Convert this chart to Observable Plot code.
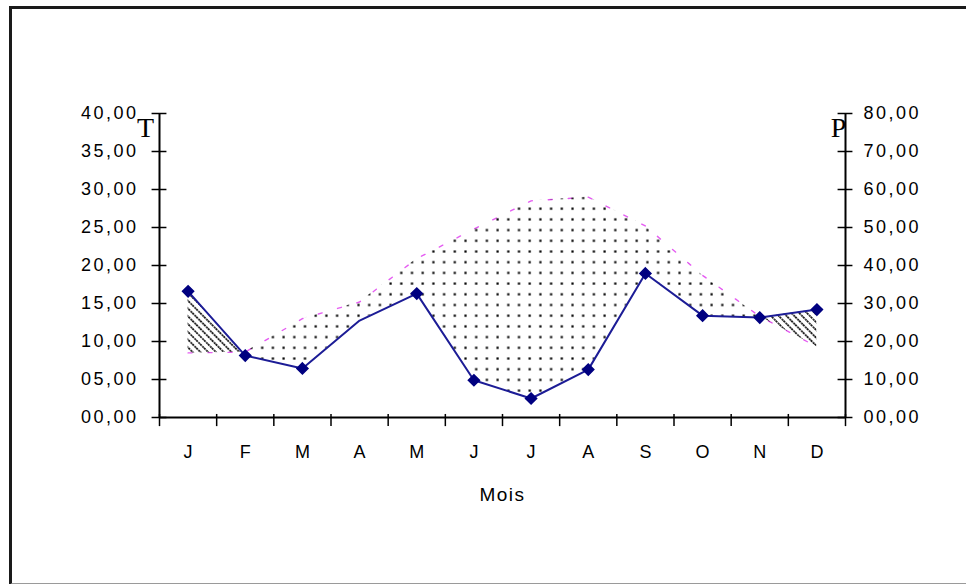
<!DOCTYPE html>
<html>
<head>
<meta charset="utf-8">
<script src="https://cdn.jsdelivr.net/npm/d3@7"></script>
<script src="https://cdn.jsdelivr.net/npm/@observablehq/plot@0.6"></script>
<style>
  html, body { margin: 0; padding: 0; background: #fff; }
  #wrap { position: relative; width: 966px; height: 584px; overflow: hidden; }
  #frame { position: absolute; left: 9px; top: 6px; width: 1000px; height: 574px;
           border-left: 3px solid #1a1a1a; border-top: 3px solid #1a1a1a; border-bottom: 2px solid #9a9a9a; }
  svg { position: absolute; left: 0; top: 0; }
</style>
</head>
<body>
<div id="wrap"><div id="frame"></div></div>
<script>
// Months (Mois)
const months = ["J","F","M","A","M","J","J","A","S","O","N","D"];
// Temperature T (°C), left axis
const temperature = [8.5, 8.6, 13.0, 15.2, 20.9, 24.8, 28.5, 29.0, 25.2, 18.7, 13.3, 9.3];
// Precipitation P (mm), right axis (P = 2T)
const precipitation = [33.2, 16.3, 12.9, 25.5, 32.6, 9.8, 5.0, 12.6, 37.9, 26.8, 26.3, 28.4];
// Tick values
const tTicks = [0, 5, 10, 15, 20, 25, 30, 35, 40];
const pTicks = [0, 10, 20, 30, 40, 50, 60, 70, 80];

const fmt = v => String(v).padStart(2, "0") + ",00";

// points at month centres, plus crossings of T and P/2 (for the area boundaries)
const pts = months.map((m, i) => ({x: i + 0.5, t: temperature[i], p: precipitation[i] / 2, i}));
const dens = [];
for (let i = 0; i < pts.length; i++) {
  dens.push(pts[i]);
  if (i < pts.length - 1) {
    const d0 = pts[i].t - pts[i].p, d1 = pts[i + 1].t - pts[i + 1].p;
    if (d0 * d1 < 0) {
      const f = d0 / (d0 - d1);
      const v = pts[i].t + f * (pts[i + 1].t - pts[i].t);
      dens.push({x: pts[i].x + f, t: v, p: v});
    }
  }
}

const font = "'Liberation Sans', Arial, sans-serif";

const svg = Plot.plot({
  width: 966,
  height: 584,
  marginLeft: 159,
  marginRight: 121,
  marginTop: 113,
  marginBottom: 167,
  x: {type: "linear", domain: [0, 12], axis: null},
  y: {type: "linear", domain: [0, 40], axis: null},
  style: {background: "transparent", fontFamily: font},
  marks: [
    // temperature line (mostly hidden, only fragments show)
    Plot.line(pts, {x: "x", y: "t", stroke: "#e040f0", strokeWidth: 1.4, strokeDasharray: "4,16", strokeOpacity: 0.85}),
    // dry period (T > P/2): dotted
    Plot.areaY(dens, {x: "x", y1: "p", y2: d => Math.max(d.t, d.p), fill: "url(#dots)", curve: "linear"}),
    // humid period (P/2 > T): hatched
    Plot.areaY(dens, {x: "x", y1: "t", y2: d => Math.max(d.t, d.p), fill: "url(#hatch)", curve: "linear"}),
    // precipitation line + markers
    Plot.line(pts, {x: "x", y: "p", stroke: "#1c1c96", strokeWidth: 2}),
    Plot.dot(pts.filter(d => d.i !== 3), {x: "x", y: "p", symbol: "diamond2", r: 5, fill: "#000080", stroke: "#000080"}),
    // axes lines
    Plot.ruleX([0, 12], {y1: 0, y2: 40, stroke: "#000", strokeWidth: 2}),
    Plot.ruleY([0], {x1: 0, x2: 12, stroke: "#000", strokeWidth: 2}),
    // tick marks
    Plot.ruleY(tTicks, {y: d => d, x1: -0.13, x2: 0.13, stroke: "#000", strokeWidth: 1.5}),
    Plot.ruleY(pTicks, {y: d => d / 2, x1: 11.87, x2: 12.13, stroke: "#000", strokeWidth: 1.5}),
    Plot.ruleX(d3.range(13), {x: d => d, y1: -1.2, y2: 0.4, stroke: "#000", strokeWidth: 1.5}),
    // tick labels
    Plot.text(tTicks, {x: 0, y: d => d, text: fmt, textAnchor: "end", dx: -21, fontSize: 18, fill: "#000"}),
    Plot.text(pTicks, {x: 12, y: d => d / 2, text: fmt, textAnchor: "start", dx: 18, fontSize: 18, fill: "#000"}),
    Plot.text(months, {x: (d, i) => i + 0.5, y: 0, text: d => d, dy: 35, fontSize: 18, fill: "#000"}),
    // axis titles
    Plot.text(["Mois"], {x: 6, y: 0, text: d => d, dy: 77, fontSize: 19, fill: "#000"}),
    Plot.text(["T"], {x: 0, y: 40, text: d => d, dx: -14, dy: 15, fontSize: 28, fontFamily: "'Liberation Serif', serif", fill: "#000"}),
    Plot.text(["P"], {x: 12, y: 40, text: d => d, dx: -7, dy: 15, fontSize: 28, fontFamily: "'Liberation Serif', serif", fill: "#000"})
  ]
});

d3.select(svg).insert("defs", ":first-child").html(`
  <pattern id="dots" patternUnits="userSpaceOnUse" width="10.7" height="10.7" x="0" y="0">
    <rect x="4.3" y="4.3" width="2.2" height="2.2" fill="#000"/>
  </pattern>
  <pattern id="hatch" patternUnits="userSpaceOnUse" width="5.5" height="5.5" patternTransform="rotate(-45)">
    <line x1="2.75" y1="0" x2="2.75" y2="5.5" stroke="#000" stroke-width="1.6" stroke-dasharray="2,1"/>
  </pattern>
`);

// wider spacing of the tick labels, as in the original bitmap font
d3.select(svg).selectAll("text").each(function() {
  const s = this.textContent;
  if (/^\d\d,00$/.test(s)) this.setAttribute("letter-spacing", "2.5px");
  if (s === "Mois") this.setAttribute("letter-spacing", "1.5px");
});

document.getElementById("wrap").appendChild(svg);
</script>
</body>
</html>
